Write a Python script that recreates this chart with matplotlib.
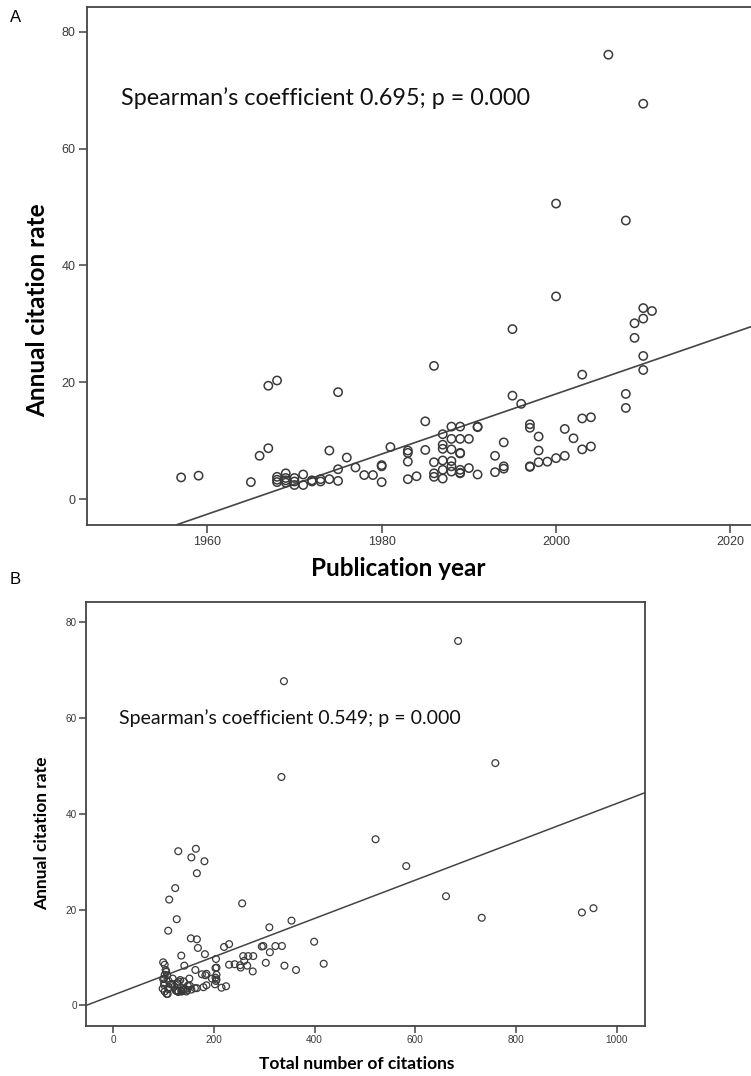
import matplotlib
matplotlib.use("Agg")
import matplotlib.pyplot as plt
import numpy as np

# ---------------- data ----------------
# Panel A: publication year vs annual citation rate
pub_year = [
    1957, 1959, 1965, 1966, 1967, 1967,
    1968, 1968, 1968, 1968,
    1969, 1969, 1969, 1969,
    1970, 1970, 1970,
    1971, 1971, 1972, 1972, 1973, 1973,
    1974, 1974, 1975, 1975, 1975, 1976, 1977, 1978, 1979,
    1980, 1980, 1980, 1981,
    1983, 1983, 1983, 1983, 1984, 1985, 1985,
    1986, 1986, 1986, 1986,
    1987, 1987, 1987, 1987, 1987, 1987,
    1988, 1988, 1988, 1988, 1988, 1988,
    1989, 1989, 1989, 1989, 1989, 1989, 1989,
    1990, 1990, 1991, 1991, 1991,
    1993, 1993, 1994, 1994, 1994,
    1995, 1995, 1996, 1997, 1997, 1997, 1997,
    1998, 1998, 1998, 1999,
    2000, 2000, 2000, 2001, 2001, 2002,
    2003, 2003, 2003, 2004, 2004, 2006,
    2008, 2008, 2008, 2009, 2009,
    2010, 2010, 2010, 2010, 2010, 2011,
]
annual_rate = [
    3.7, 4.0, 2.9, 7.4, 8.7, 19.4,
    20.3, 3.8, 2.9, 3.3,
    4.4, 3.6, 2.8, 3.2,
    3.6, 2.4, 3.0,
    4.2, 2.4, 3.2, 3.0, 3.4, 3.0,
    8.3, 3.4, 18.3, 5.1, 3.1, 7.1, 5.4, 4.1, 4.1,
    5.8, 5.6, 2.9, 8.9,
    8.3, 7.9, 6.4, 3.4, 3.9, 13.3, 8.4,
    22.8, 6.3, 4.4, 3.8,
    11.1, 9.3, 8.6, 6.6, 5.0, 3.5,
    12.4, 10.3, 8.5, 6.5, 5.6, 4.7,
    12.4, 10.3, 7.9, 7.8, 5.0, 4.5, 4.4,
    10.3, 5.3, 12.4, 12.3, 4.2,
    7.4, 4.6, 9.7, 5.6, 5.2,
    29.1, 17.7, 16.3, 12.8, 12.2, 5.6, 5.5,
    10.7, 8.3, 6.3, 6.4,
    50.6, 34.7, 7.0, 12.0, 7.4, 10.4,
    21.3, 13.8, 8.5, 14.0, 9.0, 76.1,
    47.7, 18.0, 15.6, 30.1, 27.6,
    67.7, 32.7, 30.9, 24.5, 22.1, 32.2,
]
# Panel B: total number of citations (same articles, same order)
total_citations = [
    215, 224, 145, 363, 418, 931,
    954, 179, 136, 155,
    202, 166, 129, 147,
    162, 108, 135,
    185, 106, 138, 129, 143, 126,
    340, 139, 732, 204, 124, 277, 205, 152, 148,
    203, 196, 102, 303,
    266, 253, 205, 109, 121, 399, 252,
    661, 183, 128, 110,
    311, 260, 241, 185, 140, 98,
    335, 278, 230, 176, 151, 127,
    322, 268, 205, 203, 130, 117, 114,
    258, 133, 298, 295, 101,
    163, 101, 204, 118, 109,
    582, 354, 310, 230, 220, 101, 99,
    182, 141, 107, 102,
    759, 521, 105, 168, 104, 135,
    256, 166, 102, 154, 99, 685,
    334, 126, 109, 181, 166,
    339, 164, 155, 123, 111, 129,
]

# fitted regression lines
fitA_slope, fitA_ref_year, fitA_ref_value = 0.515, 1980, 7.7
fitB_slope, fitB_intercept = 0.040, 2.16

yticks = [0, 20, 40, 60, 80]
xticksA = [1960, 1980, 2000, 2020]
xticksB = [0, 200, 400, 600, 800, 1000]
textA = "Spearman\u2019s coefficient 0.695; p = 0.000"
textB = "Spearman\u2019s coefficient 0.549; p = 0.000"

# ---------------- figure ----------------
W, H = 751, 1076
fig = plt.figure(figsize=(W / 100, H / 100), dpi=100)
fig.patch.set_facecolor("white")

LABEL_FONT = ["Lato", "DejaVu Sans"]
TICK_FONT = ["Liberation Sans", "DejaVu Sans"]
edge = "#3a3a3a"

def fx(px):
    return px / W

def fy(py):
    return 1 - py / H

axA = fig.add_axes([fx(86.7), fy(524.7), fx(751) - fx(86.7) + 0.002, fy(7.4) - fy(524.7)])
axB = fig.add_axes([fx(86), fy(1026), fx(645) - fx(86), fy(601.7) - fy(1026)])

for ax in (axA, axB):
    for s in ax.spines.values():
        s.set_color("#444444")
        s.set_linewidth(1.3)
    ax.tick_params(direction="out", color="#444444", width=1.1,
                   labelcolor="#3a3a3a")
    ax.set_yticks(yticks)

# Panel A
axA.scatter(pub_year, annual_rate, s=36, facecolors="none", edgecolors=edge,
            linewidths=1.1, zorder=3)
axA.axline((fitA_ref_year, fitA_ref_value), slope=fitA_slope, color="#444444",
           linewidth=1.2, zorder=2)
axA.set_xlim(1946.17, 2022.53)
axA.set_ylim(-4.4, 84.2)
axA.set_xticks(xticksA)
axA.spines["right"].set_visible(False)
axA.tick_params(length=6, pad=2, labelsize=9)
for lab in axA.get_xticklabels() + axA.get_yticklabels():
    lab.set_family(TICK_FONT)
fig.text(fx(121), fy(98), textA, fontsize=16.8, family=LABEL_FONT,
         va="center", ha="left", color="#111111")

# Panel B
axB.scatter(total_citations, annual_rate, s=24, facecolors="none", edgecolors=edge,
            linewidths=0.9, zorder=3)
axB.axline((0, fitB_intercept), slope=fitB_slope, color="#444444",
           linewidth=1.1, zorder=2)
axB.set_xlim(-54.3, 1056.4)
axB.set_ylim(-4.3, 84.3)
axB.set_xticks(xticksB)
axB.tick_params(length=5, pad=1.5, labelsize=7.2)
for lab in axB.get_xticklabels() + axB.get_yticklabels():
    lab.set_family(TICK_FONT)
fig.text(fx(119), fy(718), textB, fontsize=14, family=LABEL_FONT,
         va="center", ha="left", color="#111111")

# axis labels
fig.text(fx(38), fy(310), "Annual citation rate", rotation=90, fontsize=17.5,
         fontweight="bold", family=LABEL_FONT, ha="center", va="center")
fig.text(fx(398), fy(568), "Publication year", fontsize=17.5,
         fontweight="bold", family=LABEL_FONT, ha="center", va="center")
fig.text(fx(42), fy(833), "Annual citation rate", rotation=90, fontsize=12.5,
         fontweight="bold", family=LABEL_FONT, ha="center", va="center")
fig.text(fx(357), fy(1064), "Total number of citations", fontsize=12.5,
         fontweight="bold", family=LABEL_FONT, ha="center", va="center")

# panel letters
fig.text(fx(10), fy(18), "A", fontsize=12, family=TICK_FONT, ha="left", va="center")
fig.text(fx(10), fy(580), "B", fontsize=12, family=TICK_FONT, ha="left", va="center")

fig.savefig("out.png", dpi=100, facecolor="white")
